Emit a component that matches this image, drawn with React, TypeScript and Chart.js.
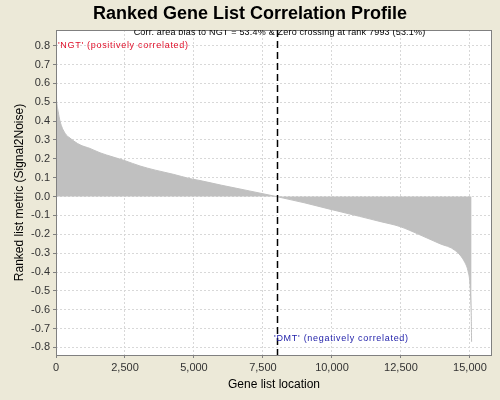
import React, { useEffect, useRef } from "react";
import { Chart, registerables } from "chart.js";

Chart.register(...registerables);

const TITLE = "Ranked Gene List Correlation Profile";
const X_TITLE = "Gene list location";
const Y_TITLE = "Ranked list metric (Signal2Noise)";
const TOP_NOTE = "Corr. area bias to NGT = 53.4% & Zero crossing at rank 7993 (53.1%)";
const POS_LABEL = "'NGT' (positively correlated)";
const NEG_LABEL = "'DMT' (negatively correlated)";
const ZERO_CROSS = 7993;

const ranks = [
  0, 25, 80, 145, 326, 507, 870, 1232, 1594, 1836, 2500, 3043, 3600, 4250, 4855,
  5217, 6000, 7000, 7993, 9000, 9928, 11000, 11739, 12464, 13188, 13913, 14457,
  14819, 14940, 15000, 15030, 15050, 15060,
];
const values = [
  0.558, 0.503, 0.45, 0.4, 0.336, 0.31, 0.274, 0.255, 0.232, 0.22, 0.19, 0.162,
  0.14, 0.118, 0.095, 0.085, 0.06, 0.03, 0.0, -0.033, -0.067, -0.105, -0.132,
  -0.159, -0.203, -0.25, -0.285, -0.35, -0.4, -0.46, -0.55, -0.65, -0.77,
];

const xTicks = [0, 2500, 5000, 7500, 10000, 12500, 15000];
const yTicks = [-0.8, -0.7, -0.6, -0.5, -0.4, -0.3, -0.2, -0.1, 0, 0.1, 0.2, 0.3, 0.4, 0.5, 0.6, 0.7, 0.8];

const X_MIN = 0;
const X_MAX = 15800;
const Y_MIN = -0.84;
const Y_MAX = 0.883;

const FONT = "'Liberation Sans', Arial, sans-serif";

export default function App() {
  const ref = useRef<HTMLCanvasElement | null>(null);

  useEffect(() => {
    if (!ref.current) return;
    const decor = {
      id: "decor",
      beforeDraw(chart: any) {
        const { ctx, chartArea: a } = chart;
        ctx.save();
        ctx.fillStyle = "#ECE9D8";
        ctx.fillRect(0, 0, chart.width, chart.height);
        ctx.fillStyle = "#ffffff";
        ctx.fillRect(a.left, a.top, a.right - a.left, a.bottom - a.top);
        ctx.restore();
      },
      afterDraw(chart: any) {
        const { ctx, chartArea: a, scales } = chart;
        const xs = scales.x;
        const ys = scales.y;
        ctx.save();
        // border
        ctx.strokeStyle = "#808080";
        ctx.lineWidth = 1;
        ctx.strokeRect(a.left + 0.5, a.top + 0.5, a.right - a.left - 1, a.bottom - a.top);
        // zero crossing line
        const zx = Math.round(xs.getPixelForValue(ZERO_CROSS)) + 0.5;
        ctx.strokeStyle = "#000000";
        ctx.lineWidth = 1.5;
        ctx.setLineDash([7, 4]);
        ctx.beginPath();
        ctx.moveTo(zx, a.top);
        ctx.lineTo(zx, a.bottom);
        ctx.stroke();
        ctx.setLineDash([]);
        // clip annotations to plot
        ctx.save();
        ctx.beginPath();
        ctx.rect(a.left, a.top, a.right - a.left, a.bottom - a.top);
        ctx.clip();
        ctx.font = `9px ${FONT}`;
        ctx.textBaseline = "middle";
        ctx.textAlign = "center";
        ctx.fillStyle = "#000000";
        (ctx as any).letterSpacing = "0.2px";
        ctx.fillText(TOP_NOTE, xs.getPixelForValue(8100), a.top + 3);
        ctx.textAlign = "left";
        (ctx as any).letterSpacing = "0.7px";
        ctx.fillStyle = "#e0102a";
        ctx.fillText(POS_LABEL, xs.getPixelForValue(70), ys.getPixelForValue(0.8));
        ctx.fillStyle = "#1c1ca8";
        ctx.fillText(NEG_LABEL, xs.getPixelForValue(7900), ys.getPixelForValue(-0.75));
        (ctx as any).letterSpacing = "0px";
        ctx.restore();
        // titles
        ctx.fillStyle = "#000000";
        ctx.textAlign = "center";
        ctx.textBaseline = "middle";
        ctx.font = `bold 18px ${FONT}`;
        ctx.fillText(TITLE, 250, 14);
        ctx.font = `12px ${FONT}`;
        ctx.fillText(X_TITLE, (a.left + a.right) / 2, 385);
        ctx.translate(20, (a.top + a.bottom) / 2);
        ctx.rotate(-Math.PI / 2);
        ctx.fillText(Y_TITLE, 0, 0);
        ctx.restore();
      },
    };

    const chart = new Chart(ref.current, {
      type: "line",
      data: {
        datasets: [
          {
            data: ranks.map((r, i) => ({ x: r, y: values[i] })),
            fill: "origin",
            backgroundColor: "#c0c0c0",
            borderColor: "#c0c0c0",
            borderWidth: 1,
            pointRadius: 0,
            cubicInterpolationMode: "monotone",
          },
        ],
      },
      options: {
        animation: false,
        responsive: false,
        devicePixelRatio: 1,
        layout: { padding: { top: 30, right: 8, left: 0, bottom: 0 } },
        plugins: { legend: { display: false }, tooltip: { enabled: false }, title: { display: false } },
        scales: {
          x: {
            type: "linear",
            min: X_MIN,
            max: X_MAX,
            afterBuildTicks: (s: any) => {
              s.ticks = xTicks.map((v) => ({ value: v }));
            },
            afterFit: (s: any) => {
              s.height = 45;
            },
            ticks: {
              autoSkip: false,
              maxRotation: 0,
              padding: 3,
              color: "#333333",
              font: { family: FONT, size: 11 },
              callback: (v: any) => Number(v).toLocaleString("en-US"),
            },
            grid: { color: "#d8d8d8", tickColor: "#808080", tickLength: 3, drawTicks: true },
            border: { display: false, dash: [2, 2] },
          },
          y: {
            type: "linear",
            min: Y_MIN,
            max: Y_MAX,
            afterBuildTicks: (s: any) => {
              s.ticks = yTicks.map((v) => ({ value: v }));
            },
            afterFit: (s: any) => {
              s.width = 56;
            },
            ticks: {
              autoSkip: false,
              padding: 3,
              color: "#333333",
              font: { family: FONT, size: 11 },
              callback: (v: any) => {
                const n = Number(v);
                return Math.abs(n) < 1e-9 ? "0.0" : n.toFixed(1);
              },
            },
            grid: { color: "#d8d8d8", tickColor: "#808080", tickLength: 3, drawTicks: true },
            border: { display: false, dash: [2, 2] },
          },
        },
      },
      plugins: [decor],
    });
    return () => chart.destroy();
  }, []);

  return (
    <div style={{ position: "fixed", left: 0, top: 0, width: 500, height: 400, background: "#ECE9D8" }}>
      <canvas ref={ref} width={500} height={400} style={{ display: "block" }} />
    </div>
  );
}
